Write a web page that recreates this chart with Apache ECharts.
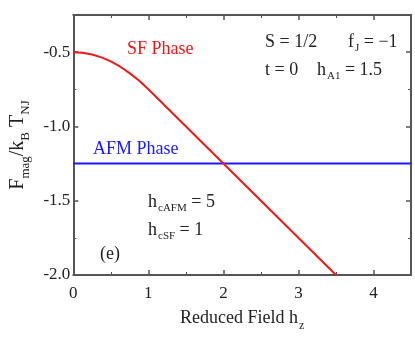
<!DOCTYPE html>
<html>
<head>
<meta charset="utf-8">
<script src="https://cdn.jsdelivr.net/npm/echarts@6/dist/echarts.min.js"></script>
<style>
  html, body { margin: 0; padding: 0; background: #fff; }
  #chart { width: 415px; height: 340px; }
</style>
</head>
<body>
<div id="chart"></div>
<script>
// reduced field h_z and free energy
var sfField  = [0, 0.125, 0.25, 0.375, 0.5, 0.625, 0.75, 0.875, 1.0, 3.5];
var sfEnergy = [-0.5, -0.504, -0.516, -0.535, -0.5625, -0.598, -0.641, -0.691, -0.75, -2.0];
var afmField  = [0, 4.5];
var afmEnergy = [-1.25, -1.25];
var xTicks = [0, 1, 2, 3, 4];
var yTicks = [-2.0, -1.5, -1.0, -0.5];

var serif = '"Liberation Serif", "DejaVu Serif", serif';
var axisColor = '#555';
var ink = '#222';

function pairs(xs, ys) {
  return xs.map(function (x, i) { return [x, ys[i]]; });
}

// subscript-capable text label for the graphic layer
function label(x, y, text) {
  return {
    type: 'text', left: x, top: y,
    style: {
      text: text,
      rich: {
        m: { fontFamily: serif, fontSize: 18, fill: ink },
        s: { fontFamily: serif, fontSize: 11, fill: ink, padding: [13, 0, 0, 1] }
      }
    }
  };
}

function frameAxis(pos, extra) {
  var ax = {
    type: 'value',
    position: pos,
    axisLine: { show: true, onZero: false, lineStyle: { color: axisColor, width: 2 } },
    axisTick: { inside: true, length: 5, lineStyle: { color: axisColor, width: 1.5 } },
    minorTick: { show: true, splitNumber: 2, length: 3, lineStyle: { color: axisColor } },
    splitLine: { show: false },
    axisLabel: { show: false }
  };
  return Object.assign(ax, extra);
}

var myChart = echarts.init(document.getElementById('chart'));

var option = {
  animation: false,
  grid: { left: 73, right: 4, top: 15, bottom: 65 },
  xAxis: [
    frameAxis('bottom', {
      min: 0, max: 4.5, interval: 1,
      name: '{m|Reduced Field h}{s|z}',
      nameLocation: 'middle', nameGap: 30,
      nameTextStyle: {
        rich: {
          m: { fontFamily: serif, fontSize: 18, color: ink },
          s: { fontFamily: serif, fontSize: 12, color: ink, padding: [15, 0, 0, 1] }
        }
      },
      axisLabel: {
        show: true, fontFamily: serif, fontSize: 17, color: ink, margin: 10,
        showMaxLabel: false,
        formatter: function (v) { return xTicks.indexOf(v) >= 0 ? String(v) : ''; }
      }
    }),
    frameAxis('top', { min: 0, max: 4.5, interval: 1 })
  ],
  yAxis: [
    frameAxis('left', {
      min: -2.0, max: -0.25, interval: 0.5,
      name: '{m|F}{s|mag}{m|/k}{s|B}{m| T}{s|NJ}',
      nameLocation: 'middle', nameGap: 34, nameRotate: 90,
      nameTextStyle: {
        rich: {
          m: { fontFamily: serif, fontSize: 20, color: ink },
          s: { fontFamily: serif, fontSize: 13, color: ink, padding: [16, 0, 0, 0] }
        }
      },
      axisLabel: {
        show: true, fontFamily: serif, fontSize: 17, color: ink, margin: 3,
        showMaxLabel: false,
        formatter: function (v) {
          return yTicks.indexOf(v) >= 0 ? v.toFixed(1) : '';
        }
      }
    }),
    frameAxis('right', { min: -2.0, max: -0.25, interval: 0.5 })
  ],
  series: [
    {
      name: 'AFM Phase', type: 'line', showSymbol: false,
      data: pairs(afmField, afmEnergy),
      lineStyle: { color: '#1a1aff', width: 2 }
    },
    {
      name: 'SF Phase', type: 'line', showSymbol: false,
      data: pairs(sfField, sfEnergy),
      lineStyle: { color: '#f01818', width: 2 }
    }
  ],
  graphic: [
    { type: 'text', left: 127, top: 40, style: { text: 'SF Phase', fontFamily: serif, fontSize: 18, fill: '#f01818' } },
    { type: 'text', left: 93, top: 140, style: { text: 'AFM Phase', fontFamily: serif, fontSize: 18, fill: '#1a1aff' } },
    label(265, 33, '{m|S = 1/2}'),
    label(348, 33, '{m|f}{s|J}{m| = \u22121}'),
    label(265, 61, '{m|t = 0}'),
    label(317, 61, '{m|h}{s|A1}{m| = 1.5}'),
    label(148, 193, '{m|h}{s|cAFM}{m| = 5}'),
    label(148, 221, '{m|h}{s|cSF}{m| = 1}'),
    label(100, 245, '{m|(e)}')
  ]
};

myChart.setOption(option);
</script>
</body>
</html>
